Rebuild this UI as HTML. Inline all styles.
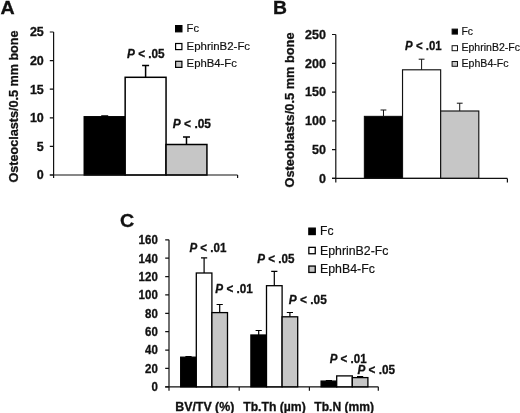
<!DOCTYPE html>
<html lang="en">
<head>
<meta charset="utf-8">
<title>Figure</title>
<style>
html,body{margin:0;padding:0;background:#fff;}
body{width:520px;height:413px;overflow:hidden;}
svg{display:block;font-family:"Liberation Sans", Arial, Helvetica, sans-serif;fill:#111;}
</style>
</head>
<body>
<svg width="520" height="413" viewBox="0 0 520 413">
<rect x="0" y="0" width="520" height="413" fill="#fff"/>
<g style="filter:blur(0.4px)">
<text x="0.5" y="14.3" font-size="18.5" font-weight="bold" text-anchor="start" stroke="#111" stroke-width="0.3" textLength="14.2" lengthAdjust="spacingAndGlyphs">A</text>
<text x="272.9" y="14.4" font-size="18.5" font-weight="bold" text-anchor="start" stroke="#111" stroke-width="0.3" textLength="14" lengthAdjust="spacingAndGlyphs">B</text>
<text x="120.0" y="227.4" font-size="18.5" font-weight="bold" text-anchor="start" stroke="#111" stroke-width="0.3" textLength="14.2" lengthAdjust="spacingAndGlyphs">C</text>
<path d="M53.6 32.0V175.0M49.800000000000004 175.0H53.6M49.800000000000004 146.4H53.6M49.800000000000004 117.80000000000001H53.6M49.800000000000004 89.2H53.6M49.800000000000004 60.60000000000001H53.6M49.800000000000004 32.0H53.6" stroke="#111" stroke-width="1.2" fill="none"/>
<rect x="84.27" y="116.8" width="40.89" height="58.20" fill="#000" stroke="#000" stroke-width="1.5"/>
<rect x="125.16" y="77.3" width="40.89" height="97.70" fill="#fff" stroke="#000" stroke-width="1.5"/>
<rect x="166.04" y="144.5" width="40.89" height="30.50" fill="#c6c6c6" stroke="#000" stroke-width="1.5"/>
<path d="M104.71 116.8V116.0M101.21 116.0H108.21" stroke="#000" stroke-width="1.5" fill="none"/>
<path d="M145.60 77.3V65.6M142.10 65.6H149.10" stroke="#000" stroke-width="1.5" fill="none"/>
<path d="M186.49 144.5V136.9M182.99 136.9H189.99" stroke="#000" stroke-width="1.5" fill="none"/>
<path d="M49.800000000000004 175.0H237.6M53.6 175.0V178.0M237.6 175.0V178.0" stroke="#111" stroke-width="1.2" fill="none"/>
<text x="43.8" y="179.4" font-size="12.5" font-weight="bold" text-anchor="end" stroke="#111" stroke-width="0.3">0</text>
<text x="43.8" y="150.8" font-size="12.5" font-weight="bold" text-anchor="end" stroke="#111" stroke-width="0.3">5</text>
<text x="43.8" y="122.20000000000002" font-size="12.5" font-weight="bold" text-anchor="end" stroke="#111" stroke-width="0.3">10</text>
<text x="43.8" y="93.60000000000001" font-size="12.5" font-weight="bold" text-anchor="end" stroke="#111" stroke-width="0.3">15</text>
<text x="43.8" y="65.00000000000001" font-size="12.5" font-weight="bold" text-anchor="end" stroke="#111" stroke-width="0.3">20</text>
<text x="43.8" y="36.4" font-size="12.5" font-weight="bold" text-anchor="end" stroke="#111" stroke-width="0.3">25</text>
<text transform="translate(18.1 106.5) rotate(-90)" font-size="12.5" font-weight="bold" stroke="#111" stroke-width="0.3" text-anchor="middle" textLength="152" lengthAdjust="spacingAndGlyphs">Osteoclasts/0.5 mm bone</text>
<text x="127" y="58.4" font-size="12.2" font-weight="bold" text-anchor="start" stroke="#111" stroke-width="0.3" textLength="37.7" lengthAdjust="spacingAndGlyphs"><tspan font-style="italic">P</tspan> &lt; .05</text>
<text x="172.8" y="128.1" font-size="12.2" font-weight="bold" text-anchor="start" stroke="#111" stroke-width="0.3" textLength="38.2" lengthAdjust="spacingAndGlyphs"><tspan font-style="italic">P</tspan> &lt; .05</text>
<rect x="175.60" y="25.60" width="6.30" height="6.20" fill="#000" stroke="#000" stroke-width="1.2"/>
<text x="186.6" y="31.9" font-size="10.6" font-weight="normal" text-anchor="start" stroke="#111" stroke-width="0.18" textLength="12.4" lengthAdjust="spacingAndGlyphs">Fc</text>
<rect x="175.60" y="43.50" width="6.30" height="6.10" fill="#fff" stroke="#000" stroke-width="1.2"/>
<text x="186.6" y="50.0" font-size="10.6" font-weight="normal" text-anchor="start" stroke="#111" stroke-width="0.18" textLength="63.5" lengthAdjust="spacingAndGlyphs">EphrinB2-Fc</text>
<rect x="175.60" y="61.30" width="6.30" height="6.10" fill="#c6c6c6" stroke="#000" stroke-width="1.2"/>
<text x="186.6" y="67.2" font-size="10.6" font-weight="normal" text-anchor="start" stroke="#111" stroke-width="0.18" textLength="50.3" lengthAdjust="spacingAndGlyphs">EphB4-Fc</text>
<path d="M335.8 34.5V178.4M332.0 178.4H335.8M332.0 149.62H335.8M332.0 120.84H335.8M332.0 92.06H335.8M332.0 63.28H335.8M332.0 34.5H335.8" stroke="#111" stroke-width="1.2" fill="none"/>
<rect x="364.40" y="116.4" width="38.13" height="62.00" fill="#000" stroke="#111" stroke-width="1.15"/>
<rect x="402.53" y="69.8" width="38.13" height="108.60" fill="#fff" stroke="#111" stroke-width="1.15"/>
<rect x="440.67" y="111.0" width="38.13" height="67.40" fill="#c6c6c6" stroke="#111" stroke-width="1.15"/>
<path d="M383.47 116.4V110.0M380.57 110.0H386.37" stroke="#111" stroke-width="1.0" fill="none"/>
<path d="M421.60 69.8V59.2M418.70 59.2H424.50" stroke="#111" stroke-width="1.0" fill="none"/>
<path d="M459.73 111.0V103.2M456.83 103.2H462.63" stroke="#111" stroke-width="1.0" fill="none"/>
<path d="M332.0 178.4H507.4M335.8 178.4V182.4M507.4 178.4V182.4" stroke="#111" stroke-width="1.2" fill="none"/>
<text x="325.9" y="182.8" font-size="12.5" font-weight="bold" text-anchor="end" stroke="#111" stroke-width="0.3">0</text>
<text x="325.9" y="154.02" font-size="12.5" font-weight="bold" text-anchor="end" stroke="#111" stroke-width="0.3">50</text>
<text x="325.9" y="125.24000000000001" font-size="12.5" font-weight="bold" text-anchor="end" stroke="#111" stroke-width="0.3">100</text>
<text x="325.9" y="96.46000000000001" font-size="12.5" font-weight="bold" text-anchor="end" stroke="#111" stroke-width="0.3">150</text>
<text x="325.9" y="67.68" font-size="12.5" font-weight="bold" text-anchor="end" stroke="#111" stroke-width="0.3">200</text>
<text x="325.9" y="38.9" font-size="12.5" font-weight="bold" text-anchor="end" stroke="#111" stroke-width="0.3">250</text>
<text transform="translate(294.3 110) rotate(-90)" font-size="12.5" font-weight="bold" stroke="#111" stroke-width="0.3" text-anchor="middle" textLength="155" lengthAdjust="spacingAndGlyphs">Osteoblasts/0.5 mm bone</text>
<text x="405.1" y="49.8" font-size="12.2" font-weight="bold" text-anchor="start" stroke="#111" stroke-width="0.3" textLength="36.5" lengthAdjust="spacingAndGlyphs"><tspan font-style="italic">P</tspan> &lt; .01</text>
<rect x="452.10" y="29.10" width="5.40" height="5.00" fill="#000" stroke="#111" stroke-width="1.0"/>
<text x="461.5" y="34.6" font-size="10.3" font-weight="normal" text-anchor="start" stroke="#111" stroke-width="0.18" textLength="11.6" lengthAdjust="spacingAndGlyphs">Fc</text>
<rect x="452.10" y="45.70" width="5.40" height="5.00" fill="#fff" stroke="#111" stroke-width="1.0"/>
<text x="461.5" y="50.8" font-size="10.3" font-weight="normal" text-anchor="start" stroke="#111" stroke-width="0.18" textLength="58.5" lengthAdjust="spacingAndGlyphs">EphrinB2-Fc</text>
<rect x="452.10" y="61.50" width="5.40" height="4.80" fill="#c6c6c6" stroke="#111" stroke-width="1.0"/>
<text x="461.5" y="66.7" font-size="10.3" font-weight="normal" text-anchor="start" stroke="#111" stroke-width="0.18" textLength="47.1" lengthAdjust="spacingAndGlyphs">EphB4-Fc</text>
<path d="M169.0 239.8V386.8M165.2 386.8H169.0M165.2 368.425H169.0M165.2 350.05H169.0M165.2 331.675H169.0M165.2 313.3H169.0M165.2 294.925H169.0M165.2 276.55H169.0M165.2 258.175H169.0M165.2 239.8H169.0" stroke="#111" stroke-width="1.2" fill="none"/>
<path d="M165.2 386.8H378.3M169.0 386.8V390.8M239.2 386.8V390.8M309.4 386.8V390.8M378.3 386.8V390.8" stroke="#111" stroke-width="1.2" fill="none"/>
<rect x="180.70" y="357.2" width="15.60" height="29.60" fill="#000" stroke="#000" stroke-width="1.3"/>
<path d="M188.50 357.2V356.6M185.40 356.6H191.60" stroke="#000" stroke-width="1.2" fill="none"/>
<rect x="196.30" y="273.0" width="15.60" height="113.80" fill="#fff" stroke="#000" stroke-width="1.3"/>
<path d="M204.10 273.0V257.9M201.00 257.9H207.20" stroke="#000" stroke-width="1.2" fill="none"/>
<rect x="211.90" y="312.6" width="15.60" height="74.20" fill="#c6c6c6" stroke="#000" stroke-width="1.3"/>
<path d="M219.70 312.6V304.5M216.60 304.5H222.80" stroke="#000" stroke-width="1.2" fill="none"/>
<rect x="250.90" y="335.0" width="15.60" height="51.80" fill="#000" stroke="#000" stroke-width="1.3"/>
<path d="M258.70 335.0V330.5M255.60 330.5H261.80" stroke="#000" stroke-width="1.2" fill="none"/>
<rect x="266.50" y="285.7" width="15.60" height="101.10" fill="#fff" stroke="#000" stroke-width="1.3"/>
<path d="M274.30 285.7V271.4M271.20 271.4H277.40" stroke="#000" stroke-width="1.2" fill="none"/>
<rect x="282.10" y="316.8" width="15.60" height="70.00" fill="#c6c6c6" stroke="#000" stroke-width="1.3"/>
<path d="M289.90 316.8V312.5M286.80 312.5H293.00" stroke="#000" stroke-width="1.2" fill="none"/>
<rect x="321.10" y="381.1" width="15.60" height="5.70" fill="#000" stroke="#000" stroke-width="1.3"/>
<path d="M328.90 381.1V380.5M325.80 380.5H332.00" stroke="#000" stroke-width="1.2" fill="none"/>
<rect x="336.70" y="375.9" width="15.60" height="10.90" fill="#fff" stroke="#000" stroke-width="1.3"/>
<rect x="352.30" y="377.6" width="15.60" height="9.20" fill="#c6c6c6" stroke="#000" stroke-width="1.3"/>
<path d="M360.10 377.6V376.5M357.00 376.5H363.20" stroke="#000" stroke-width="1.2" fill="none"/>
<text transform="translate(157.8 391.2) scale(0.92 1)" font-size="12.5" font-weight="bold" text-anchor="end" stroke="#111" stroke-width="0.3">0</text>
<text transform="translate(157.8 372.825) scale(0.92 1)" font-size="12.5" font-weight="bold" text-anchor="end" stroke="#111" stroke-width="0.3">20</text>
<text transform="translate(157.8 354.45) scale(0.92 1)" font-size="12.5" font-weight="bold" text-anchor="end" stroke="#111" stroke-width="0.3">40</text>
<text transform="translate(157.8 336.075) scale(0.92 1)" font-size="12.5" font-weight="bold" text-anchor="end" stroke="#111" stroke-width="0.3">60</text>
<text transform="translate(157.8 317.7) scale(0.92 1)" font-size="12.5" font-weight="bold" text-anchor="end" stroke="#111" stroke-width="0.3">80</text>
<text transform="translate(157.8 299.325) scale(0.92 1)" font-size="12.5" font-weight="bold" text-anchor="end" stroke="#111" stroke-width="0.3">100</text>
<text transform="translate(157.8 280.95) scale(0.92 1)" font-size="12.5" font-weight="bold" text-anchor="end" stroke="#111" stroke-width="0.3">120</text>
<text transform="translate(157.8 262.575) scale(0.92 1)" font-size="12.5" font-weight="bold" text-anchor="end" stroke="#111" stroke-width="0.3">140</text>
<text transform="translate(157.8 244.20000000000002) scale(0.92 1)" font-size="12.5" font-weight="bold" text-anchor="end" stroke="#111" stroke-width="0.3">160</text>
<text x="175.2" y="410.9" font-size="12.3" font-weight="bold" text-anchor="start" stroke="#111" stroke-width="0.3" textLength="59.2" lengthAdjust="spacingAndGlyphs">BV/TV (%)</text>
<text x="243.2" y="410.9" font-size="12.3" font-weight="bold" text-anchor="start" stroke="#111" stroke-width="0.3" textLength="62.6" lengthAdjust="spacingAndGlyphs">Tb.Th (µm)</text>
<text x="314.3" y="410.9" font-size="12.3" font-weight="bold" text-anchor="start" stroke="#111" stroke-width="0.3" textLength="59.8" lengthAdjust="spacingAndGlyphs">Tb.N (mm)</text>
<text x="189.4" y="252.2" font-size="12.2" font-weight="bold" text-anchor="start" stroke="#111" stroke-width="0.3" textLength="37" lengthAdjust="spacingAndGlyphs"><tspan font-style="italic">P</tspan> &lt; .01</text>
<text x="215.3" y="293.4" font-size="12.2" font-weight="bold" text-anchor="start" stroke="#111" stroke-width="0.3" textLength="37.5" lengthAdjust="spacingAndGlyphs"><tspan font-style="italic">P</tspan> &lt; .01</text>
<text x="257.2" y="262.5" font-size="12.2" font-weight="bold" text-anchor="start" stroke="#111" stroke-width="0.3" textLength="37.3" lengthAdjust="spacingAndGlyphs"><tspan font-style="italic">P</tspan> &lt; .05</text>
<text x="288.8" y="303.5" font-size="12.2" font-weight="bold" text-anchor="start" stroke="#111" stroke-width="0.3" textLength="38.0" lengthAdjust="spacingAndGlyphs"><tspan font-style="italic">P</tspan> &lt; .05</text>
<text x="329.7" y="363.3" font-size="12.2" font-weight="bold" text-anchor="start" stroke="#111" stroke-width="0.3" textLength="36.9" lengthAdjust="spacingAndGlyphs"><tspan font-style="italic">P</tspan> &lt; .01</text>
<text x="357.5" y="373.7" font-size="12.2" font-weight="bold" text-anchor="start" stroke="#111" stroke-width="0.3" textLength="37.5" lengthAdjust="spacingAndGlyphs"><tspan font-style="italic">P</tspan> &lt; .05</text>
<rect x="308.85" y="228.15" width="6.40" height="6.40" fill="#000" stroke="#000" stroke-width="1.3"/>
<text x="320.0" y="235.2" font-size="12.2" font-weight="normal" text-anchor="start" stroke="#111" stroke-width="0.18" textLength="13.5" lengthAdjust="spacingAndGlyphs">Fc</text>
<rect x="308.85" y="247.35" width="6.40" height="6.40" fill="#fff" stroke="#000" stroke-width="1.3"/>
<text x="320.0" y="254.5" font-size="12.2" font-weight="normal" text-anchor="start" stroke="#111" stroke-width="0.18" textLength="68.4" lengthAdjust="spacingAndGlyphs">EphrinB2-Fc</text>
<rect x="308.85" y="266.05" width="6.40" height="6.40" fill="#c6c6c6" stroke="#000" stroke-width="1.3"/>
<text x="320.0" y="273.2" font-size="12.2" font-weight="normal" text-anchor="start" stroke="#111" stroke-width="0.18" textLength="54.9" lengthAdjust="spacingAndGlyphs">EphB4-Fc</text>
</g>
</svg>
</body>
</html>
